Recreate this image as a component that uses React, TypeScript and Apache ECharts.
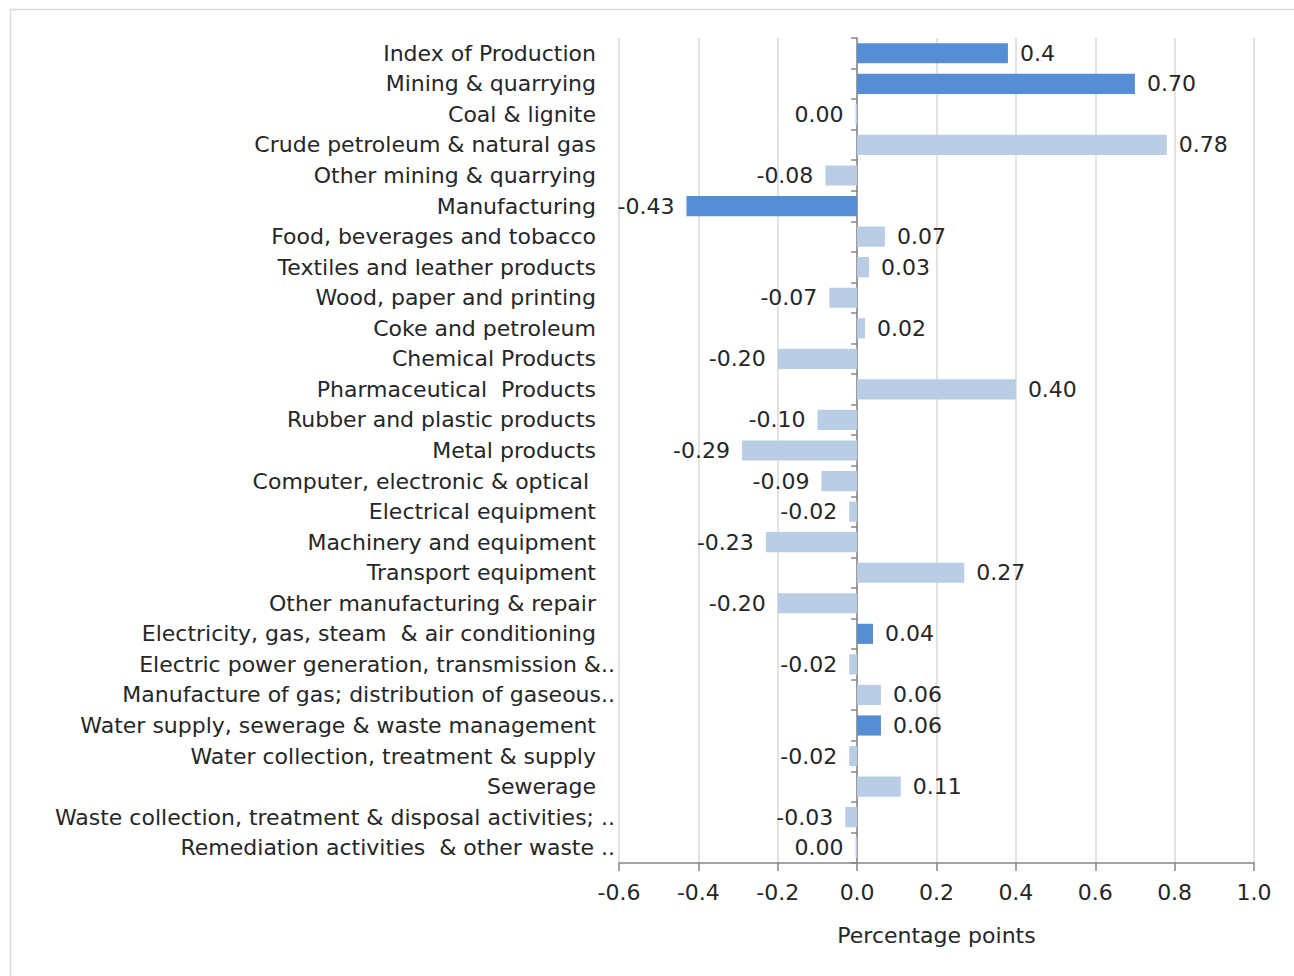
import React, { useEffect, useRef } from "react";
import * as echarts from "echarts";

// Contributions to the index, in percentage points
const categories = [
  "Index of Production",
  "Mining & quarrying",
  "Coal & lignite",
  "Crude petroleum & natural gas",
  "Other mining & quarrying",
  "Manufacturing",
  "Food, beverages and tobacco",
  "Textiles and leather products",
  "Wood, paper and printing",
  "Coke and petroleum",
  "Chemical Products",
  "Pharmaceutical  Products",
  "Rubber and plastic products",
  "Metal products",
  "Computer, electronic & optical ",
  "Electrical equipment",
  "Machinery and equipment",
  "Transport equipment",
  "Other manufacturing & repair",
  "Electricity, gas, steam  & air conditioning",
  "Electric power generation, transmission &..",
  "Manufacture of gas; distribution of gaseous..",
  "Water supply, sewerage & waste management",
  "Water collection, treatment & supply",
  "Sewerage",
  "Waste collection, treatment & disposal activities; ..",
  "Remediation activities  & other waste ..",
];

const values = [
  0.38, 0.7, -0.004, 0.78, -0.08, -0.43, 0.07, 0.03, -0.07, 0.02, -0.2, 0.4,
  -0.1, -0.29, -0.09, -0.02, -0.23, 0.27, -0.2, 0.04, -0.02, 0.06, 0.06, -0.02,
  0.11, -0.03, -0.004,
];

// "total" rows are headline aggregates, "sub" rows are their components
const levels = [
  "total", "total", "sub", "sub", "sub", "total", "sub", "sub", "sub", "sub",
  "sub", "sub", "sub", "sub", "sub", "sub", "sub", "sub", "sub", "total", "sub",
  "sub", "total", "sub", "sub", "sub", "sub",
];

const labelDecimals = [
  1, 2, 2, 2, 2, 2, 2, 2, 2, 2, 2, 2, 2, 2, 2, 2, 2, 2, 2, 2, 2, 2, 2, 2, 2, 2, 2,
];

const xTicks = [-0.6, -0.4, -0.2, 0.0, 0.2, 0.4, 0.6, 0.8, 1.0];

const COLORS: Record<string, string> = { total: "#558ed5", sub: "#b9cde5" };
const FONT = "DejaVu Sans";
const FS = 22;
const TEXT = "#262626";

function formatValue(v: number, d: number): string {
  const s = v.toFixed(d);
  return parseFloat(s) === 0 ? (0).toFixed(d) : s;
}

export default function App() {
  const ref = useRef<HTMLDivElement>(null);

  useEffect(() => {
    if (!ref.current) return;
    const chart = echarts.init(ref.current, undefined, { renderer: "svg" });

    const data = values.map((v, i) => ({
      value: v,
      itemStyle: { color: COLORS[levels[i]] },
      label: {
        position: v >= 0 ? "right" : "left",
        formatter: formatValue(v, labelDecimals[i]),
      },
    }));

    chart.setOption({
      animation: false,
      backgroundColor: "#ffffff",
      textStyle: { fontFamily: FONT },
      graphic: [
        {
          type: "rect",
          shape: { x: 10.5, y: 9.5, width: 1400, height: 1100 },
          style: { fill: "none", stroke: "#d9d9d9", lineWidth: 1.5 },
          silent: true,
          z: -1,
        },
      ],
      grid: { left: 619, right: 40, top: 38, bottom: 113, containLabel: false },
      xAxis: {
        type: "value",
        min: xTicks[0],
        max: xTicks[xTicks.length - 1],
        interval: 0.2,
        name: "Percentage points",
        nameLocation: "middle",
        nameGap: 61,
        nameTextStyle: { fontFamily: FONT, fontSize: FS, color: TEXT },
        axisLine: { show: true, onZero: false, lineStyle: { color: "#868686", width: 1.5 } },
        axisTick: { show: true, length: 8, lineStyle: { color: "#868686", width: 1.5 } },
        axisLabel: {
          fontFamily: FONT,
          fontSize: FS,
          color: TEXT,
          margin: 18,
          formatter: (v: number) => v.toFixed(1),
        },
        splitLine: { show: true, lineStyle: { color: "#d9d9d9", width: 1.5 } },
      },
      yAxis: [
        {
          type: "category",
          data: categories,
          inverse: true,
          axisLine: { show: false, onZero: false },
          axisTick: { show: false },
          axisLabel: {
            fontFamily: FONT,
            fontSize: FS,
            color: TEXT,
            margin: 4,
            interval: 0,
            formatter: (v: string) => (v.endsWith("..") ? `{t|${v}}` : `{t|${v}}{p| }`),
            rich: {
              t: { fontFamily: FONT, fontSize: FS, color: TEXT },
              p: { width: 19, fontSize: FS },
            },
          },
        },
        {
          type: "category",
          data: categories,
          inverse: true,
          position: "left",
          axisLine: { show: true, onZero: true, lineStyle: { color: "#868686", width: 1.5 } },
          axisTick: { show: true, length: 6, lineStyle: { color: "#868686", width: 1.5 } },
          axisLabel: { show: false },
        },
      ],
      series: [
        {
          type: "bar",
          yAxisIndex: 0,
          data,
          barCategoryGap: "34%",
          label: {
            show: true,
            distance: 12,
            fontFamily: FONT,
            fontSize: FS,
            color: TEXT,
          },
        },
      ],
    });

    return () => chart.dispose();
  }, []);

  return (
    <div
      ref={ref}
      style={{ position: "absolute", left: 0, top: 0, width: 1294, height: 976 }}
    />
  );
}
